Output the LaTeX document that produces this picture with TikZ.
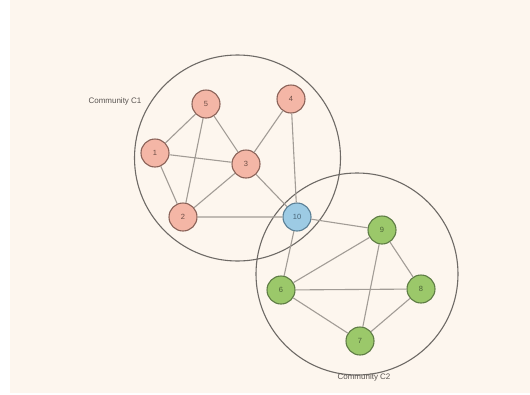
\documentclass[tikz,border=0pt]{standalone}
\usepackage{fontspec}
\setmainfont{Liberation Sans}
\definecolor{bg}{HTML}{FDF6EE}
\definecolor{pinkf}{HTML}{F4B6A6}
\definecolor{pinkd}{HTML}{8A6258}
\definecolor{greenf}{HTML}{9BC86A}
\definecolor{greend}{HTML}{5E7C45}
\definecolor{bluef}{HTML}{9DCBE4}
\definecolor{blued}{HTML}{5A7F95}
\definecolor{ringc}{HTML}{6E6A66}
\definecolor{edgec}{HTML}{A29C96}
\definecolor{txt}{HTML}{5A5552}
\begin{document}
\begin{tikzpicture}[x=1pt,y=-1pt,
  vtx/.style={circle,minimum size=28pt,inner sep=0pt,line width=1.1pt,font=\fontsize{7.5}{8}\selectfont},
  pinkv/.style={vtx,fill=pinkf,draw=pinkd,text=pinkd!80!black},
  greenv/.style={vtx,fill=greenf,draw=greend,text=greend!80!black},
  bluev/.style={vtx,fill=bluef,draw=blued,text=blued!80!black},
  ring/.style={draw=ringc,line width=1.1pt},
  edge/.style={draw=edgec,line width=1.1pt},
  lbl/.style={font=\fontsize{8}{9}\selectfont,text=txt}]
\useasboundingbox (0,0) rectangle (530,394);
\fill[white] (0,0) rectangle (530,394);
\fill[bg] (10,0) rectangle (530,393);
\draw[ring] (237.5,158) circle (103);
\draw[ring] (357,274) circle (101);
\node[lbl] (c1) at (115,101) {Community C1};
\node[lbl] (c2) at (364,377) {Community C2};
\node[pinkv] (n5) at (206,104) {5};
\node[pinkv] (n4) at (291,99) {4};
\node[pinkv] (n1) at (155,153) {1};
\node[pinkv] (n3) at (246,164) {3};
\node[pinkv] (n2) at (183,217) {2};
\node[bluev] (n10) at (297,217) {10};
\node[greenv] (n9) at (382,230) {9};
\node[greenv] (n6) at (281,290) {6};
\node[greenv] (n8) at (421,289) {8};
\node[greenv] (n7) at (360,341) {7};
\path[edge] (n1)--(n5) (n1)--(n3) (n1)--(n2) (n5)--(n3) (n5)--(n2) (n3)--(n2)
 (n3)--(n4) (n3)--(n10) (n4)--(n10) (n2)--(n10) (n10)--(n9) (n10)--(n6)
 (n9)--(n6) (n9)--(n8) (n9)--(n7) (n6)--(n8) (n6)--(n7) (n7)--(n8);
\end{tikzpicture}
\end{document}
